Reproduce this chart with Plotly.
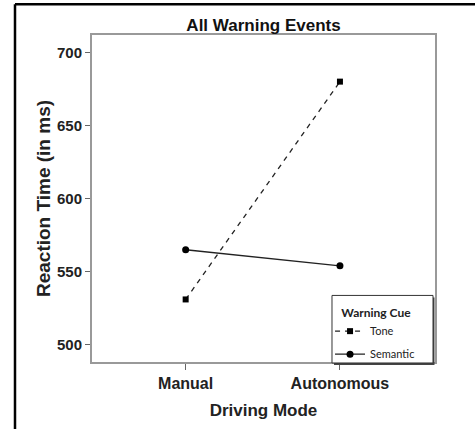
import plotly.graph_objects as go

categories = ["Manual", "Autonomous"]
tone_rt = [531, 680]
semantic_rt = [565, 554]
y_ticks = [500, 550, 600, 650, 700]

fig = go.Figure()
fig.add_trace(go.Scatter(
    x=[0, 1], y=tone_rt, name="Tone", mode="lines+markers",
    line=dict(color="#222", width=1.3, dash="5px,5px"),
    marker=dict(symbol="square", size=6, color="#000"),
    legend="legend",
))
fig.add_trace(go.Scatter(
    x=[0, 1], y=semantic_rt, name="Semantic", mode="lines+markers",
    line=dict(color="#222", width=1.3),
    marker=dict(symbol="circle", size=7, color="#000"),
    legend="legend2",
))

ytick_font = dict(family="Liberation Sans, Arial", size=15, color="#222")
xtick_font = dict(family="Liberation Sans, Arial", size=16, color="#222")
xtitle_font = dict(family="Liberation Sans, Arial", size=17, color="#222")
ytitle_font = dict(family="Liberation Sans, Arial", size=19, color="#222")
leg_font = dict(family="Lato, Open Sans", size=11, color="#222")

fig.update_layout(
    width=475, height=429,
    margin=dict(l=92, r=40, t=35, b=65),
    paper_bgcolor="white", plot_bgcolor="white",
    title=dict(text="<b>All Warning Events</b>", x=0.5, xanchor="center",
               xref="paper", y=0.942, yanchor="middle",
               font=dict(family="Liberation Sans, Arial", size=17, color="#111")),
    xaxis=dict(
        range=[-0.607, 1.616], tickvals=[0, 1],
        ticktext=["<b>" + c + "</b>" for c in categories],
        ticks="outside", ticklen=6, tickcolor="#666", tickwidth=1,
        showgrid=False, zeroline=False,
        showline=True, linecolor="#999", linewidth=2, mirror=True,
        tickfont=xtick_font,
        title=dict(text="<b>Driving Mode</b>", font=xtitle_font, standoff=13),
    ),
    yaxis=dict(
        range=[488.2, 711.9], tickvals=y_ticks,
        ticktext=["<b>%d</b>" % v for v in y_ticks],
        ticks="outside", ticklen=5, tickcolor="#666", tickwidth=1,
        showgrid=False, zeroline=False,
        showline=True, linecolor="#999", linewidth=2, mirror=True,
        tickfont=ytick_font,
        title=dict(text="<b>Reaction Time (in ms)</b>", font=ytitle_font, standoff=1),
    ),
    legend=dict(
        x=0.694, y=0.1864, xanchor="left", yanchor="top",
        bgcolor="rgba(0,0,0,0)", borderwidth=0,
        font=leg_font,
        title=dict(text="\u00a0\u00a0\u00a0<b>Warning Cue</b>",
                   font=dict(family="Lato, Open Sans", size=12, color="#222")),
        itemwidth=30,
    ),
    legend2=dict(
        x=0.694, y=0.0684, xanchor="left", yanchor="top",
        bgcolor="rgba(0,0,0,0)", borderwidth=0,
        font=leg_font, itemwidth=30,
    ),
    showlegend=True,
    shapes=[
        # legend shadow
        dict(type="rect", xref="paper", yref="paper",
             x0=0.7055, x1=0.9985, y0=-0.0091, y1=0.1976,
             fillcolor="#444", line=dict(width=0), layer="above"),
        # legend box
        dict(type="rect", xref="paper", yref="paper",
             x0=0.6997, x1=0.9942, y0=-0.003, y1=0.2036,
             fillcolor="white", line=dict(color="#333", width=1), layer="above"),
        # outer frame (left and top edges)
        dict(type="line", xref="paper", yref="paper",
             x0=-0.2245, x1=-0.2245, y0=-0.25, y1=1.0942,
             line=dict(color="black", width=2.5)),
        dict(type="line", xref="paper", yref="paper",
             x0=-0.2245, x1=1.2, y0=1.0942, y1=1.0942,
             line=dict(color="black", width=2.5)),
    ],
)

fig.write_html("out.html", config={"displayModeBar": False},
               post_script="document.body.style.margin='0';")
